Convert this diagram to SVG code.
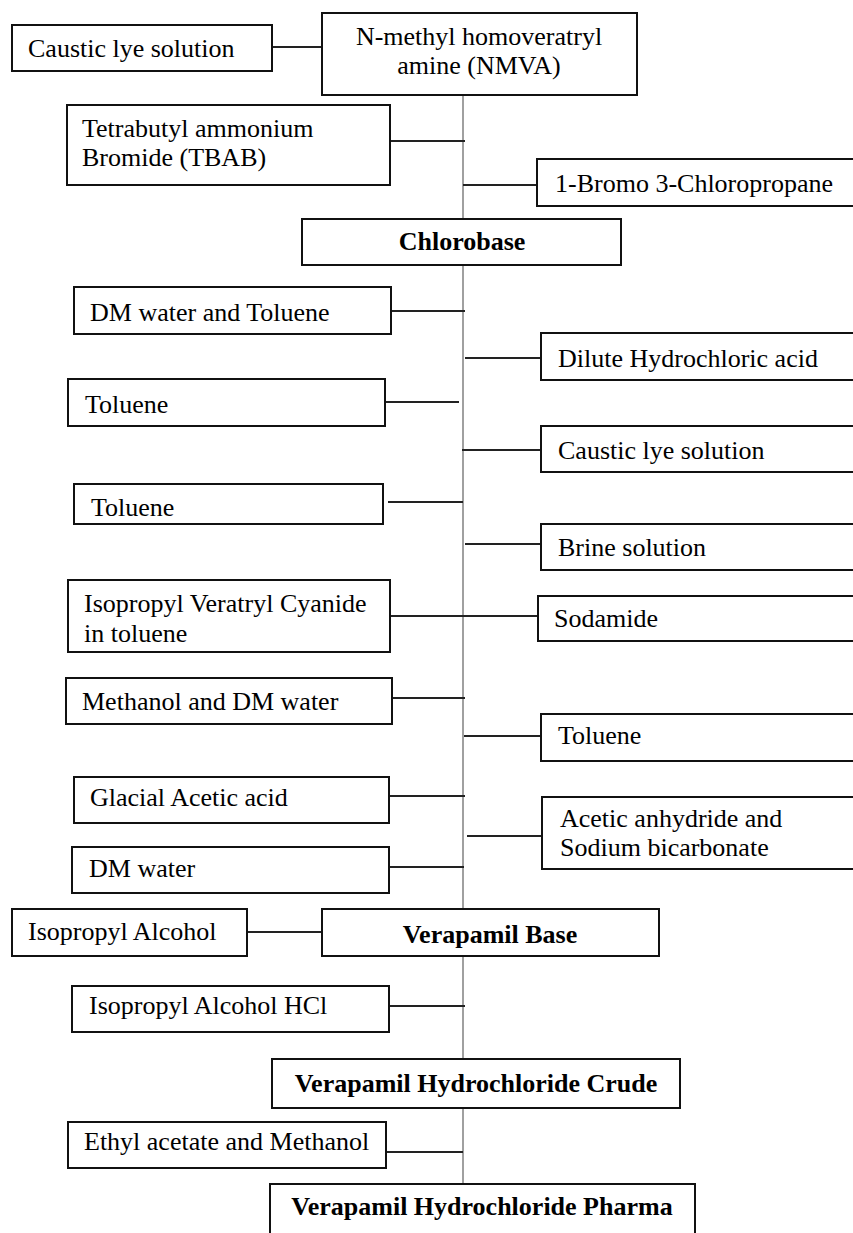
<svg xmlns="http://www.w3.org/2000/svg" width="853" height="1233" viewBox="0 0 853 1233">
<style>
.b{fill:#fff;stroke:#111;stroke-width:2}
.t{font-family:"Liberation Serif","Times New Roman",serif;font-size:26px;fill:#000}
.bold{font-weight:bold;text-anchor:middle}
.c{stroke:#222;stroke-width:2;fill:none}
.v{stroke:#a0a0a0;stroke-width:2;fill:none}
</style>
<rect width="853" height="1233" fill="#fff"/>
<g id="connectors">
<line class="v" x1="463" y1="95" x2="463" y2="1184"/>
<line class="c" x1="272" y1="47" x2="322" y2="47"/>
<line class="c" x1="390" y1="141" x2="465" y2="141"/>
<line class="c" x1="463" y1="185" x2="537" y2="185"/>
<line class="c" x1="391" y1="311" x2="465" y2="311"/>
<line class="c" x1="465" y1="358" x2="541" y2="358"/>
<line class="c" x1="385" y1="402" x2="459" y2="402"/>
<line class="c" x1="462" y1="450" x2="541" y2="450"/>
<line class="c" x1="388" y1="502" x2="463" y2="502"/>
<line class="c" x1="465" y1="544" x2="541" y2="544"/>
<line class="c" x1="390" y1="616" x2="538" y2="616"/>
<line class="c" x1="388" y1="698" x2="465" y2="698"/>
<line class="c" x1="464" y1="736" x2="541" y2="736"/>
<line class="c" x1="389" y1="796" x2="465" y2="796"/>
<line class="c" x1="467" y1="836" x2="542" y2="836"/>
<line class="c" x1="389" y1="867" x2="464" y2="867"/>
<line class="c" x1="247" y1="932" x2="322" y2="932"/>
<line class="c" x1="389" y1="1006" x2="465" y2="1006"/>
<line class="c" x1="386" y1="1152" x2="463" y2="1152"/>
</g>
<g id="n1"><rect class="b" x="12" y="25" width="260" height="46"/><text class="t" x="28" y="57">Caustic lye solution</text></g>
<g id="n2"><rect class="b" x="322" y="13" width="315" height="82"/><text class="t" x="479" y="45" text-anchor="middle">N-methyl homoveratryl</text><text class="t" x="479" y="74" text-anchor="middle">amine (NMVA)</text></g>
<g id="n3"><rect class="b" x="67" y="105" width="323" height="80"/><text class="t" x="82" y="137">Tetrabutyl ammonium</text><text class="t" x="82" y="166">Bromide (TBAB)</text></g>
<g id="n4"><rect class="b" x="537" y="159" width="323" height="47"/><text class="t" x="555" y="192">1-Bromo 3-Chloropropane</text></g>
<g id="n5"><rect class="b" x="302" y="219" width="319" height="46"/><text class="t bold" x="462" y="250">Chlorobase</text></g>
<g id="n6"><rect class="b" x="74" y="287" width="317" height="47"/><text class="t" x="90" y="321">DM water and Toluene</text></g>
<g id="n7"><rect class="b" x="541" y="333" width="319" height="47"/><text class="t" x="558" y="367">Dilute Hydrochloric acid</text></g>
<g id="n8"><rect class="b" x="68" y="379" width="317" height="47"/><text class="t" x="85" y="413">Toluene</text></g>
<g id="n9"><rect class="b" x="541" y="426" width="319" height="46"/><text class="t" x="558" y="459">Caustic lye solution</text></g>
<g id="n10"><rect class="b" x="74" y="484" width="309" height="40"/><text class="t" x="91" y="516">Toluene</text></g>
<g id="n11"><rect class="b" x="541" y="524" width="319" height="46"/><text class="t" x="558" y="556">Brine solution</text></g>
<g id="n12"><rect class="b" x="68" y="580" width="322" height="72"/><text class="t" x="84" y="612">Isopropyl Veratryl Cyanide</text><text class="t" x="84" y="642">in toluene</text></g>
<g id="n13"><rect class="b" x="538" y="596" width="322" height="45"/><text class="t" x="554" y="627">Sodamide</text></g>
<g id="n14"><rect class="b" x="66" y="678" width="326" height="46"/><text class="t" x="82" y="710">Methanol and DM water</text></g>
<g id="n15"><rect class="b" x="541" y="714" width="319" height="47"/><text class="t" x="558" y="744">Toluene</text></g>
<g id="n16"><rect class="b" x="74" y="777" width="315" height="46"/><text class="t" x="90" y="806">Glacial Acetic acid</text></g>
<g id="n17"><rect class="b" x="542" y="797" width="318" height="72"/><text class="t" x="560" y="827">Acetic anhydride and</text><text class="t" x="560" y="856">Sodium bicarbonate</text></g>
<g id="n18"><rect class="b" x="72" y="847" width="317" height="46"/><text class="t" x="89" y="877">DM water</text></g>
<g id="n19"><rect class="b" x="12" y="909" width="235" height="47"/><text class="t" x="28" y="940">Isopropyl Alcohol</text></g>
<g id="n20"><rect class="b" x="322" y="909" width="337" height="47"/><text class="t bold" x="490" y="943">Verapamil Base</text></g>
<g id="n21"><rect class="b" x="72" y="986" width="317" height="46"/><text class="t" x="89" y="1014">Isopropyl Alcohol HCl</text></g>
<g id="n22"><rect class="b" x="272" y="1059" width="408" height="49"/><text class="t bold" x="476" y="1092">Verapamil Hydrochloride Crude</text></g>
<g id="n23"><rect class="b" x="68" y="1122" width="318" height="46"/><text class="t" x="84" y="1150">Ethyl acetate and Methanol</text></g>
<g id="n24"><rect class="b" x="270" y="1184" width="425" height="60"/><text class="t bold" x="482" y="1215">Verapamil Hydrochloride Pharma</text></g>
</svg>
